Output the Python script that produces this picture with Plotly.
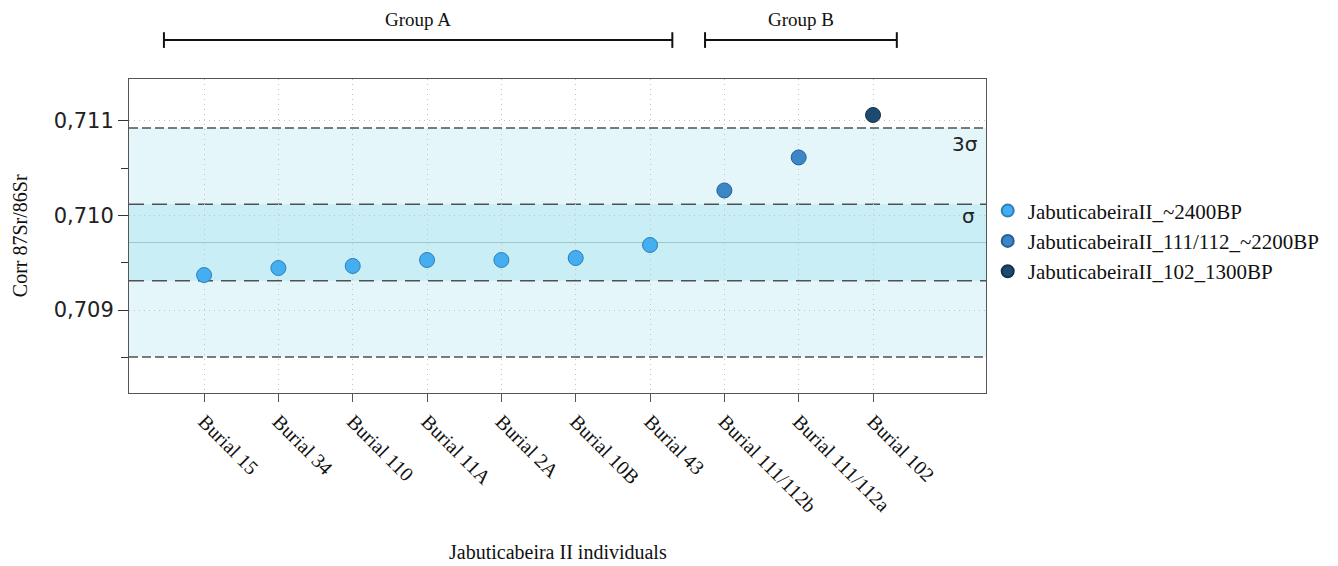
import plotly.graph_objects as go

# Individuals and their corrected 87Sr/86Sr values
burials = ["Burial 15", "Burial 34", "Burial 110", "Burial 11A", "Burial 2A",
           "Burial 10B", "Burial 43", "Burial 111/112b", "Burial 111/112a", "Burial 102"]
sr_ratio = [0.70937, 0.709444, 0.709466, 0.709529, 0.709529,
            0.70955, 0.709688, 0.710265, 0.710614, 0.711063]

# Series membership (index ranges into the lists above)
series_names = ["JabuticabeiraII_~2400BP", "JabuticabeiraII_111/112_~2200BP", "JabuticabeiraII_102_1300BP"]
series_slices = [(0, 7), (7, 9), (9, 10)]
series_colors = ["#45aef0", "#3a86c6", "#1e4a70"]
series_edges = ["#2d7fb8", "#285f92", "#143350"]

# Local baseline statistics
baseline_mean = 0.709714
baseline_sd = 0.000404

# Group brackets: (label, start index, end index)
groups = [("Group A", -0.54, 6.30), ("Group B", 6.74, 9.32)]

serif = "Liberation Serif, Times New Roman, serif"
sans = "DejaVu Sans, sans-serif"

fig = go.Figure()

for name, (a, b), col, edge in zip(series_names, series_slices, series_colors, series_edges):
    fig.add_trace(go.Scatter(
        x=burials[a:b], y=sr_ratio[a:b], mode="markers", name=name,
        marker=dict(size=15, color=col, line=dict(color=edge, width=1)),
    ))

# Shaded 3σ and 1σ bands
fig.add_shape(type="rect", xref="paper", yref="y", x0=0, x1=1,
              y0=baseline_mean - 3 * baseline_sd, y1=baseline_mean + 3 * baseline_sd,
              fillcolor="#e4f6fa", line=dict(width=0), layer="below")
fig.add_shape(type="rect", xref="paper", yref="y", x0=0, x1=1,
              y0=baseline_mean - baseline_sd, y1=baseline_mean + baseline_sd,
              fillcolor="#c9eef5", line=dict(width=0), layer="below")
# Mean line
fig.add_shape(type="line", xref="paper", yref="y", x0=0, x1=1,
              y0=baseline_mean, y1=baseline_mean,
              line=dict(color="#9cc8cc", width=1), layer="between")
# σ and 3σ boundaries
for k, dash in [(1, "15px,8px"), (3, "9px,4px")]:
    for s in (-1, 1):
        yv = baseline_mean + s * k * baseline_sd
        fig.add_shape(type="line", xref="paper", yref="y", x0=0, x1=1, y0=yv, y1=yv,
                      line=dict(color="#505050", width=1.5, dash=dash), layer="between")

fig.add_annotation(xref="paper", yref="y", x=0.993, y=baseline_mean + 2.58 * baseline_sd,
                   text="3σ", showarrow=False, xanchor="right", yanchor="middle",
                   font=dict(family=sans, size=20, color="#222"))
fig.add_annotation(xref="paper", yref="y", x=0.99, y=baseline_mean + 0.7 * baseline_sd,
                   text="σ", showarrow=False, xanchor="right", yanchor="middle",
                   font=dict(family=sans, size=20, color="#222"))

# Group brackets above the plot
for label, g0, g1 in groups:
    fig.add_shape(type="line", xref="x", yref="paper", x0=g0, x1=g1, y0=1.124, y1=1.124,
                  line=dict(color="#111", width=2))
    for gx in (g0, g1):
        fig.add_shape(type="line", xref="x", yref="paper", x0=gx, x1=gx, y0=1.099, y1=1.149,
                      line=dict(color="#111", width=2))
    fig.add_annotation(xref="x", yref="paper", x=(g0 + g1) / 2, y=1.19, text=label,
                       showarrow=False, yanchor="middle",
                       font=dict(family=serif, size=19, color="#111"))

fig.update_xaxes(
    type="category", categoryorder="array", categoryarray=burials,
    range=[-1.01, 10.52],
    showline=True, mirror=True, linecolor="#555", linewidth=1,
    ticks="outside", ticklen=8, tickcolor="#555", tickangle=45,
    tickfont=dict(family=serif, size=20, color="#111"),
    showgrid=True, gridcolor="#c4c4c4", griddash="1px,4px", gridwidth=1,
    zeroline=False,
)
fig.update_yaxes(
    range=[0.708122, 0.711444],
    tickvals=[0.709, 0.710, 0.711], tickformat=".3f",
    showline=True, mirror=True, linecolor="#555", linewidth=1,
    ticks="outside", ticklen=10, tickcolor="#333",
    tickfont=dict(family=sans, size=21, color="#222"),
    minor=dict(tickvals=[0.7085, 0.7095, 0.7105], ticks="outside", ticklen=7,
               tickcolor="#333", showgrid=False),
    showgrid=True, gridcolor="#c4c4c4", griddash="1px,4px", gridwidth=1,
    zeroline=False,
)

fig.add_annotation(xref="paper", yref="paper", x=0.5, y=-0.505, text="Jabuticabeira II individuals",
                   showarrow=False, yanchor="middle", font=dict(family=serif, size=20, color="#111"))
fig.add_annotation(xref="paper", yref="paper", x=-0.127, y=0.5, text="Corr 87Sr/86Sr",
                   textangle=-90, showarrow=False, xanchor="center", yanchor="middle",
                   font=dict(family=serif, size=20, color="#111"))

fig.update_layout(
    width=1338, height=566,
    margin=dict(l=129, r=352, t=79, b=173),
    paper_bgcolor="white", plot_bgcolor="white",
    separators=",.",
    showlegend=True,
    legend=dict(x=1.002, y=0.645, xanchor="left", yanchor="top",
                font=dict(family=serif, size=21, color="#111"),
                itemsizing="constant", tracegroupgap=0, bgcolor="rgba(0,0,0,0)"),
)

fig.write_html("out.html")
